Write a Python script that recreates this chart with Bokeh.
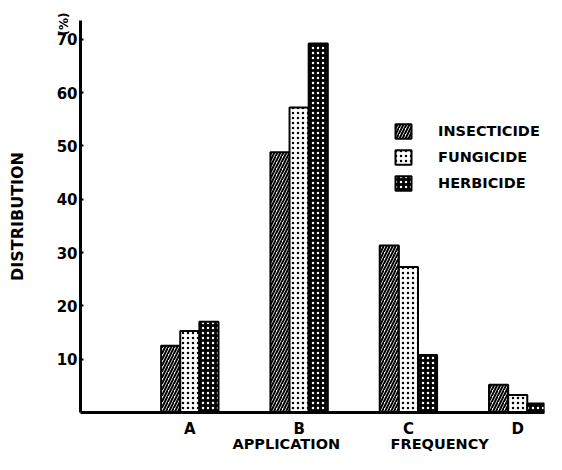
from bokeh.plotting import figure
from bokeh.models import Range1d, FixedTicker, Legend, LegendItem, ColumnDataSource, Title
from bokeh.embed import file_html
from bokeh.resources import INLINE

groups = ["A", "B", "C", "D"]
insecticide = [12.5, 48.8, 31.3, 5.2]
fungicide = [15.3, 57.2, 27.3, 3.3]
herbicide = [17.0, 69.2, 10.8, 1.7]
y_ticks = [10, 20, 30, 40, 50, 60, 70]

FONT = "DejaVu Sans"
W = 0.175

p = figure(width=546, height=454, output_backend="svg", toolbar_location=None,
           x_range=Range1d(0, 4.245), y_range=Range1d(0, 73.5),
           min_border_left=80, min_border_right=2, min_border_top=20, min_border_bottom=42)
p.outline_line_color = None
p.grid.grid_line_color = None
p.background_fill_color = "white"
p.border_fill_color = "white"

pos = [i + 1 for i in range(len(groups))]
series = [
    ("INSECTICIDE", insecticide, -W, dict(fill_color="white", hatch_pattern="/", hatch_color="black",
                                           hatch_scale=6, hatch_weight=2)),
    ("FUNGICIDE", fungicide, 0.0, dict(fill_color="white", hatch_pattern=".", hatch_color="black",
                                        hatch_scale=5, hatch_weight=2.2)),
    ("HERBICIDE", herbicide, W, dict(fill_color="black", hatch_pattern=".", hatch_color="white",
                                      hatch_scale=5, hatch_weight=1.8)),
]
items = []
for name, vals, off, style in series:
    src = ColumnDataSource(dict(x=[v + off for v in pos], top=vals))
    r = p.vbar(x="x", top="top", bottom=0, width=W, source=src, line_color="black",
               line_width=2, **style)
    items.append(LegendItem(label=name, renderers=[r]))

legend = Legend(items=items, location=(313, 220), padding=0, margin=0, spacing=8,
                glyph_width=20, glyph_height=18, label_height=18, label_standoff=25,
                border_line_color=None, background_fill_alpha=0, label_text_color="black",
                label_text_font=FONT, label_text_font_style="bold", label_text_font_size="14.5px")
p.add_layout(legend, "center")

ya = p.yaxis[0]
ya.ticker = FixedTicker(ticks=y_ticks)
ya.axis_line_width = 3
ya.major_tick_in = 3
ya.major_tick_out = 0
ya.major_tick_line_width = 2
ya.minor_tick_line_color = None
ya.major_label_standoff = 3
ya.major_label_text_color = "black"
ya.major_label_text_font = FONT
ya.major_label_text_font_style = "bold"
ya.major_label_text_font_size = "15px"

xa = p.xaxis[0]
xa.ticker = FixedTicker(ticks=pos)
xa.major_label_overrides = {pos[i]: groups[i] for i in range(len(groups))}
xa.axis_line_width = 3
xa.major_tick_line_color = None
xa.minor_tick_line_color = None
xa.major_label_standoff = 1
xa.major_label_text_color = "black"
xa.major_label_text_font = FONT
xa.major_label_text_font_style = "bold"
xa.major_label_text_font_size = "15px"

# left side: "(%)" pulled back over the tick-label column, a blank spacer, then the axis title
p.add_layout(Title(text="(%)", align="right", offset=-8, standoff=-34, text_font=FONT,
                   text_color="black", text_font_style="bold", text_font_size="12px"), "left")
p.add_layout(Title(text="\u00a0", standoff=24, text_font_size="1px"), "left")
p.add_layout(Title(text="DISTRIBUTION", align="center", standoff=0, text_font=FONT,
                   text_color="black", text_font_style="bold", text_font_size="16px"), "left")
p.add_layout(Title(text="APPLICATION" + "\u00a0" * 10 + "FREQUENCY", align="left", offset=152,
                   vertical_align="top", standoff=-10, text_font=FONT, text_color="black",
                   text_font_style="bold", text_font_size="14.5px"), "below")

open("out.html", "w").write(file_html(p, INLINE))
